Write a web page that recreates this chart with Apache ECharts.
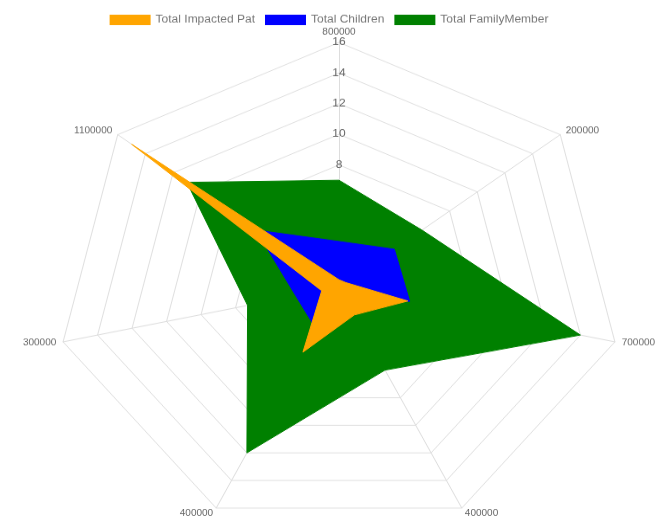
<!DOCTYPE html>
<html><head><meta charset="utf-8">
<script src="https://cdn.jsdelivr.net/npm/echarts@6/dist/echarts.min.js"></script>
<style>
html,body{margin:0;padding:0;overflow:hidden;background:#fff}
#wrap{width:658px;height:521px;overflow:hidden}
#chart{width:658px;height:602px;transform:scaleY(0.8655);transform-origin:0 0}
</style></head><body><div id="wrap"><div id="chart"></div></div>
<script>
const indicatorNames = ['800000', '1100000', '300000', '400000', '400000', '700000', '200000'];
const axisMax = 16;
const axisSplits = 8;
const seriesNames = ['Total Impacted Pat', 'Total Children', 'Total FamilyMember'];
const impactedPat = [0.5, 15, 1, 4.7, 2, 4, 0.5];
const children = [3, 6, 2.5, 3, 1, 4.1, 4];
const familyMember = [7, 11, 5.3, 12, 6, 14, 6];
const colors = ['#FFA500', '#0000FF', '#008000'];

const FONT = 'Liberation Sans, Arial, sans-serif';
const chart = echarts.init(document.getElementById('chart'), null, {width: 658, height: 602});

const indicators = indicatorNames.map((n, i) => {
  const o = {name: n, min: 0, max: axisMax};
  if (i === 0) {
    o.axisLabel = {show: true, margin: 0, align: 'center', verticalAlign: 'middle',
      color: '#666', fontSize: 12, fontFamily: FONT};
  }
  return o;
});

const valuesList = [impactedPat, children, familyMember];
// draw order: green bottom, blue, orange on top
const order = [2, 1, 0];
const series = order.map(i => ({
  type: 'radar',
  name: seriesNames[i],
  symbol: 'none',
  silent: true,
  z: 2 + (2 - i),
  itemStyle: {color: colors[i]},
  lineStyle: {color: colors[i], width: 1},
  areaStyle: {color: colors[i], opacity: 1},
  data: [{name: seriesNames[i], value: valuesList[i]}]
}));

chart.setOption({
  animation: false,
  backgroundColor: '#fff',
  color: colors,
  legend: {
    data: seriesNames,
    top: 12,
    left: 'center',
    icon: 'rect',
    itemWidth: 41,
    itemHeight: 12,
    itemGap: 10,
    textStyle: {color: '#777', fontSize: 12, fontFamily: FONT}
  },
  radar: {
    center: [339, 332],
    radius: 283,
    startAngle: 90,
    splitNumber: axisSplits,
    indicator: indicators,
    nameGap: 7,
    axisName: {color: '#666', fontSize: 10, fontFamily: FONT},
    axisLine: {lineStyle: {color: '#ddd'}},
    splitLine: {lineStyle: {color: '#e0e0e0'}},
    splitArea: {show: false},
    axisLabel: {show: false}
  },
  series: series
});
</script></body></html>
